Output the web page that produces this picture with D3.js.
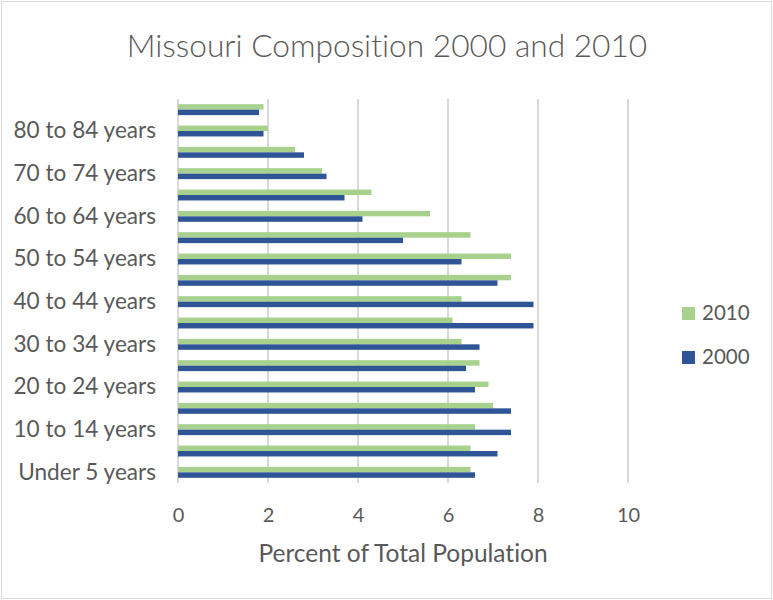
<!DOCTYPE html>
<html>
<head>
<meta charset="utf-8">
<script src="https://cdn.jsdelivr.net/npm/d3@7/dist/d3.min.js"></script>
<style>
  html, body { margin: 0; padding: 0; background: #fff; }
  svg { display: block; font-family: Lato, "Open Sans", sans-serif; font-variant-ligatures: none; }
</style>
</head>
<body>
<svg id="chart" width="773" height="600"></svg>
<script>
// Age groups, bottom to top
const ageGroups = [
  "Under 5 years", "5 to 9 years", "10 to 14 years", "15 to 19 years",
  "20 to 24 years", "25 to 29 years", "30 to 34 years", "35 to 39 years",
  "40 to 44 years", "45 to 49 years", "50 to 54 years", "55 to 59 years",
  "60 to 64 years", "65 to 69 years", "70 to 74 years", "75 to 79 years",
  "80 to 84 years", "85 years and over"
];
// Percent of total population in each age group
const pct2000 = [6.6, 7.1, 7.4, 7.4, 6.6, 6.4, 6.7, 7.9, 7.9, 7.1, 6.3, 5.0, 4.1, 3.7, 3.3, 2.8, 1.9, 1.8];
const pct2010 = [6.5, 6.5, 6.6, 7.0, 6.9, 6.7, 6.3, 6.1, 6.3, 7.4, 7.4, 6.5, 5.6, 4.3, 3.2, 2.6, 2.0, 1.9];
const xTicks = [0, 2, 4, 6, 8, 10];
const seriesNames = ["2010", "2000"];

const colors = { "2000": "#2f5597", "2010": "#a9d18e" };
const textColor = "#595959";

const svg = d3.select("#chart");
const W = 773, H = 600;
const plot = { left: 178, right: 628, top: 99, bottom: 483 };

// chart frame
svg.append("rect")
  .attr("x", 1.5).attr("y", 1.5)
  .attr("width", W - 3).attr("height", H - 3)
  .attr("fill", "#fff").attr("stroke", "#d9d9d9").attr("stroke-width", 1);

const x = d3.scaleLinear().domain([0, 10]).range([plot.left, plot.right]);
const y = d3.scaleBand().domain(ageGroups).range([plot.bottom, plot.top]).paddingInner(0).paddingOuter(0);
const inner = d3.scaleBand().domain(["2010", "2000"]).range([0, y.bandwidth()]).paddingInner(0).paddingOuter(0.95);

// vertical gridlines
svg.append("g")
  .selectAll("line")
  .data(xTicks)
  .join("line")
  .attr("x1", d => x(d)).attr("x2", d => x(d))
  .attr("y1", plot.top).attr("y2", plot.bottom)
  .attr("stroke", "#d9d9d9").attr("stroke-width", 2);

// bars
const rows = ageGroups.map((g, i) => ({ g, v2000: pct2000[i], v2010: pct2010[i] }));
const groups = svg.append("g")
  .selectAll("g")
  .data(rows)
  .join("g")
  .attr("transform", d => `translate(0,${y(d.g)})`);

groups.append("rect")
  .attr("x", x(0))
  .attr("y", inner("2010"))
  .attr("height", inner.bandwidth())
  .attr("width", d => x(d.v2010) - x(0))
  .attr("fill", colors["2010"]);

groups.append("rect")
  .attr("x", x(0))
  .attr("y", inner("2000"))
  .attr("height", inner.bandwidth())
  .attr("width", d => x(d.v2000) - x(0))
  .attr("fill", colors["2000"]);

// x axis labels
const xAxis = d3.axisBottom(x).tickValues(xTicks).tickSize(0).tickPadding(0);
const gx = svg.append("g")
  .attr("transform", `translate(0,${plot.bottom})`)
  .call(xAxis);
gx.select(".domain").remove();
gx.selectAll("text")
  .attr("dy", null)
  .attr("y", 38.5)
  .attr("fill", textColor)
  .attr("font-size", 20)
  .attr("font-family", "Lato, sans-serif");

// y axis labels (every other category)
const yAxis = d3.axisLeft(y)
  .tickValues(ageGroups.filter((d, i) => i % 2 === 0))
  .tickSize(0).tickPadding(22);
const gy = svg.append("g")
  .attr("transform", `translate(${plot.left},0)`)
  .call(yAxis);
gy.select(".domain").remove();
gy.selectAll("text")
  .attr("fill", textColor)
  .attr("font-size", 22.6)
  .attr("font-family", "Lato, sans-serif");

// title
svg.append("text")
  .attr("x", 387).attr("y", 56.5)
  .attr("text-anchor", "middle")
  .attr("fill", textColor)
  .attr("font-size", 31.7)
  .attr("font-weight", 300)
  .text("Missouri Composition 2000 and 2010");

// axis title
svg.append("text")
  .attr("x", 403).attr("y", 562)
  .attr("text-anchor", "middle")
  .attr("fill", textColor)
  .attr("font-size", 24.5)
  .text("Percent of Total Population");

// legend
const legend = svg.append("g")
  .selectAll("g")
  .data(seriesNames)
  .join("g")
  .attr("transform", (d, i) => `translate(682,${307 + i * 44})`);
legend.append("rect")
  .attr("width", 13).attr("height", 13)
  .attr("fill", d => colors[d]);
legend.append("text")
  .attr("x", 20).attr("y", 13)
  .attr("fill", textColor)
  .attr("font-size", 20.5)
  .text(d => d);
</script>
</body>
</html>
